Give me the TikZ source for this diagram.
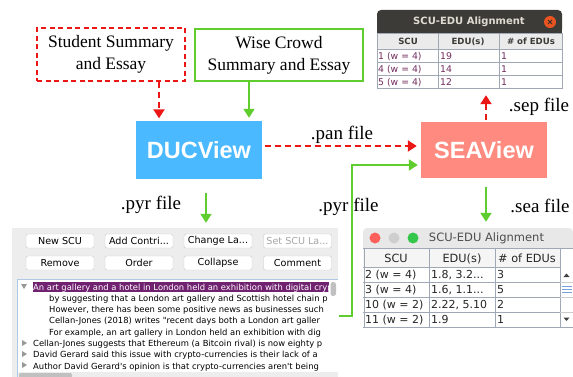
\documentclass[tikz,border=0pt]{standalone}
\usepackage{fontspec}
\setmainfont{Liberation Serif}
\newfontfamily\hvb{Liberation Sans}
\newfontfamily\ui{DejaVu Sans}
\usetikzlibrary{arrows.meta}
\definecolor{myred}{RGB}{235,22,22}
\definecolor{mygreen}{RGB}{95,205,45}
\definecolor{ducblue}{RGB}{74,185,255}
\definecolor{seasalmon}{RGB}{255,138,128}
\definecolor{titledark}{RGB}{60,59,55}
\definecolor{titletext}{RGB}{223,219,210}
\definecolor{ubclose}{RGB}{233,84,32}
\definecolor{gridc}{RGB}{160,168,182}
\definecolor{cellc}{RGB}{115,45,95}
\definecolor{panelgrey}{RGB}{237,237,237}
\definecolor{btnborder}{RGB}{200,200,200}
\definecolor{selpurple}{RGB}{112,34,112}
\definecolor{macgrey}{RGB}{232,232,232}
\definecolor{mactext}{RGB}{77,77,77}
\definecolor{macred}{RGB}{252,96,92}
\definecolor{macgreen}{RGB}{52,199,73}
\definecolor{macdot}{RGB}{206,206,206}
\definecolor{treeborder}{RGB}{175,200,230}
\definecolor{thumbgrey}{RGB}{192,192,192}
\definecolor{scrollblue}{RGB}{120,160,220}
\begin{document}
\begin{tikzpicture}[x=1pt,y=-1pt,
  redarrow/.style={myred, line width=2.4pt, dash pattern=on 6pt off 4pt, -{Triangle[length=9pt,width=11pt]}},
  greenarrow/.style={mygreen, line width=2pt, -{Triangle[length=9pt,width=11pt]}},
  lbl/.style={font=\fontsize{19}{22}\selectfont, inner sep=0},
  txtbox/.style={font=\fontsize{17.5}{22}\selectfont, align=center, inner sep=0},
  appbox/.style={font=\hvb\bfseries\fontsize{23.5}{26}\selectfont, text=white, inner sep=0},
  btn/.style={draw=btnborder, fill=white, rounded corners=2pt, minimum width=68pt, minimum height=14pt, inner sep=0, font=\ui\fontsize{9.6}{10}\selectfont},
  tline/.style={anchor=base west, inner sep=0, font=\ui\fontsize{8.4}{10}\selectfont},
  twhead/.style={inner sep=0, anchor=base, font=\ui\bfseries\fontsize{8.6}{10}\selectfont, text=titledark},
  twcell/.style={inner sep=0, anchor=base west, font=\ui\fontsize{9.3}{10}\selectfont, text=cellc},
  bwhead/.style={inner sep=0, anchor=base, font=\ui\fontsize{11.3}{12}\selectfont, text=black!85},
  bwcell/.style={inner sep=0, anchor=base west, font=\ui\fontsize{11}{12}\selectfont, text=black!85}
]
\useasboundingbox (0,0) rectangle (573,377);

% ---------- top boxes ----------
\node[txtbox, draw=myred, line width=2.3pt, dash pattern=on 5pt off 3.5pt,
      minimum width=148pt, minimum height=53pt] (stu) at (111,54.5) {Student Summary\\and Essay};
\node[txtbox, draw=mygreen, line width=1.6pt,
      minimum width=168pt, minimum height=52pt] (wise) at (279,55) {Wise Crowd\\Summary and Essay};

% ---------- app boxes ----------
\node[appbox, fill=ducblue, minimum width=126pt, minimum height=58pt] (duc) at (199,150) {DUCView};
\node[appbox, fill=seasalmon, minimum width=126pt, minimum height=56pt] (sea) at (484,150) {SEAView};

% ---------- window placeholders ----------
\node[inner sep=0, minimum width=185pt, minimum height=79pt] (tw) at (469.5,49.5) {};
\node[inner sep=0, minimum width=210pt, minimum height=99pt] (bw) at (468,277.5) {};
\node[inner sep=0, minimum width=326pt, minimum height=149pt] (dw) at (175,302.5) {};

% ---------- top-right Ubuntu window ----------
\fill[white] (377,33) rectangle (562,89);
\fill[titledark, rounded corners=4pt] (377,10) rectangle (562,33);
\fill[titledark] (377,24) rectangle (562,33);
\node[inner sep=0, font=\ui\bfseries\fontsize{10}{12}\selectfont, text=titletext] (twtitle) at (469,22) {SCU-EDU Alignment};
\fill[ubclose] (550,22) circle (6pt);
\draw[titledark!80!black, line width=0.9pt] (548,20) -- (552,24) (552,20) -- (548,24);
\fill[black!8] (377,34) rectangle (562,49);
\draw[gridc, line width=0.8pt] (377,33) rectangle (562,88);
\draw[gridc, line width=0.8pt] (377,49) -- (562,49) (377,62) -- (562,62) (377,75) -- (562,75);
\draw[gridc, line width=0.8pt] (438,33) -- (438,88) (499,33) -- (499,88);
\node[twhead] at (408,45) {SCU};
\node[twhead] at (468,45) {EDU(s)};
\node[twhead] at (531,45) {\# of EDUs};
\node[twcell] at (378,59.3) {1 (w = 4)};
\node[twcell] at (440,59.3) {19};
\node[twcell] at (501,59.3) {1};
\node[twcell] at (378,72.3) {4 (w = 4)};
\node[twcell] at (440,72.3) {14};
\node[twcell] at (501,72.3) {1};
\node[twcell] at (378,85.3) {5 (w = 4)};
\node[twcell] at (440,85.3) {12};
\node[twcell] at (501,85.3) {1};

% ---------- bottom-right Mac window ----------
\fill[white] (363,248) rectangle (573,327);
\fill[macgrey, rounded corners=4pt] (363,228) rectangle (573,248);
\fill[macgrey] (363,238) rectangle (573,248);
\fill[macred] (375,238) circle (5.5pt);
\fill[macdot] (394,238) circle (5.5pt);
\fill[macgreen] (413,238) circle (5.5pt);
\node[inner sep=0, font=\ui\fontsize{11.5}{13}\selectfont, text=mactext] (bwtitle) at (486.5,238.5) {SCU-EDU Alignment};
\fill[black!4] (363,248) rectangle (560,267);
\draw[gridc, line width=0.9pt] (363,248) -- (573,248);
\draw[gridc, line width=0.9pt] (363,267) -- (560,267) (363,282) -- (560,282) (363,297) -- (560,297) (363,312) -- (560,312) (363,327) -- (573,327);
\draw[gridc, line width=0.9pt] (364,248) -- (364,327) (429,248) -- (429,327) (495,248) -- (495,327) (560,248) -- (560,327);
\draw[black!20, line width=0.6pt] (560,282) -- (573,282) (560,297) -- (573,297) (560,312) -- (573,312);
\node[bwhead] at (396,262) {SCU};
\node[bwhead] at (462,262) {EDU(s)};
\node[bwhead] at (527,262) {\# of EDUs};
\node[bwcell] at (365,278.7) {2 (w = 4)};
\node[bwcell] at (431,278.7) {1.8, 3.2...};
\node[bwcell] at (497,278.7) {3};
\node[bwcell] at (365,293.7) {3 (w = 4)};
\node[bwcell] at (431,293.7) {1.6, 1.1...};
\node[bwcell] at (497,293.7) {5};
\node[bwcell] at (365,308.7) {10 (w = 2)};
\node[bwcell] at (431,308.7) {2.22, 5.10};
\node[bwcell] at (497,308.7) {2};
\node[bwcell] at (365,323.7) {11 (w = 2)};
\node[bwcell] at (431,323.7) {1.9};
\node[bwcell] at (497,323.7) {1};
\fill[black!75] (563.5,277) -- (569.5,277) -- (566.5,273.5) -- cycle;
\fill[black!75] (563.5,317.5) -- (569.5,317.5) -- (566.5,321) -- cycle;
\draw[scrollblue, line width=0.8pt] (562,286.5) -- (572,286.5) (562,289.5) -- (572,289.5) (562,292.5) -- (572,292.5);

% ---------- DUCView screenshot ----------
\fill[panelgrey] (12,228) rectangle (338,377);
\node[btn] (b1) at (60,241) {New SCU};
\node[btn] (b2) at (139,241) {Add Contri...};
\node[btn] (b3) at (218,241) {Change La...};
\node[btn, text=black!35] (b4) at (297.5,241) {Set SCU La...};
\node[btn] (b5) at (60,263) {Remove};
\node[btn] (b6) at (139,263) {Order};
\node[btn] (b7) at (218,263) {Collapse};
\node[btn] (b8) at (297.5,263) {Comment};
\fill[white] (17,279) rectangle (338,372);
\draw[treeborder, line width=0.8pt] (338,279) -- (17,279) -- (17,377);
\fill[selpurple] (33,282) rectangle (329,292);
\fill[black!40] (21,284) -- (27,284) -- (24,289) -- cycle;
\foreach \yy in {343,354,365} {\fill[black!40] (22,\yy-3) -- (22,\yy+3) -- (27,\yy) -- cycle;}
\fill[thumbgrey, rounded corners=2.5pt] (330.5,282) rectangle (336,296);
\fill[thumbgrey, rounded corners=2pt] (19,373) rectangle (72,378);
\begin{scope}
\clip (17,279) rectangle (328.5,372);
\node[tline, text=white] at (33,290) {An art gallery and a hotel in London held an exhibition with digital crypto};
\node[tline] at (49,301.3) {by suggesting that a London art gallery and Scottish hotel chain p};
\node[tline] at (49,312.6) {However, there has been some positive news as businesses such};
\node[tline] at (49,323.9) {Cellan-Jones (2018) writes "recent days both a London art galler};
\node[tline] at (49,335.2) {For example, an art gallery in London held an exhibition with dig};
\node[tline] at (33,346.5) {Cellan-Jones suggests that Ethereum (a Bitcoin rival) is now eighty p};
\node[tline] at (33,357.8) {David Gerard said this issue with crypto-currencies is their lack of a};
\node[tline] at (33,369.1) {Author David Gerard's opinion is that crypto-currencies aren't being};
\end{scope}

% ---------- labels ----------
\node[lbl] (lpan) at (342,135) {.pan file};
\node[lbl] (lsep) at (539,107) {.sep file};
\node[lbl] (lsea) at (540,206) {.sea file};
\node[lbl] (lpyr1) at (151,205) {.pyr file};
\node[lbl] (lpyr2) at (348.5,207) {.pyr file};

% ---------- connectors ----------
\draw[redarrow, shorten >=2.5pt] (stu.south -| 159,0) -- (duc.north -| 159,0);
\draw[greenarrow, shorten >=3pt] (wise.south -| 249,0) -- (duc.north -| 249,0);
\draw[redarrow, shorten <=3pt, shorten >=4pt] ([yshift=4pt]duc.east) -- ([yshift=4pt]sea.west);
\draw[greenarrow, shorten >=3pt] ([yshift=-13.5pt,xshift=1pt]dw.east) -- ++(13,0) |- ([yshift=-15pt]sea.west);
\draw[greenarrow, shorten <=14pt, shorten >=5pt] (duc.south -| 206,0) -- (dw.north -| 206,0);
\draw[greenarrow, shorten <=9pt, shorten >=6pt] (sea.south -| 486,0) -- (bw.north -| 486,0);
\draw[redarrow, shorten <=2pt, shorten >=6pt] (sea.north -| 486,0) -- (tw.south -| 486,0);
\end{tikzpicture}
\end{document}
